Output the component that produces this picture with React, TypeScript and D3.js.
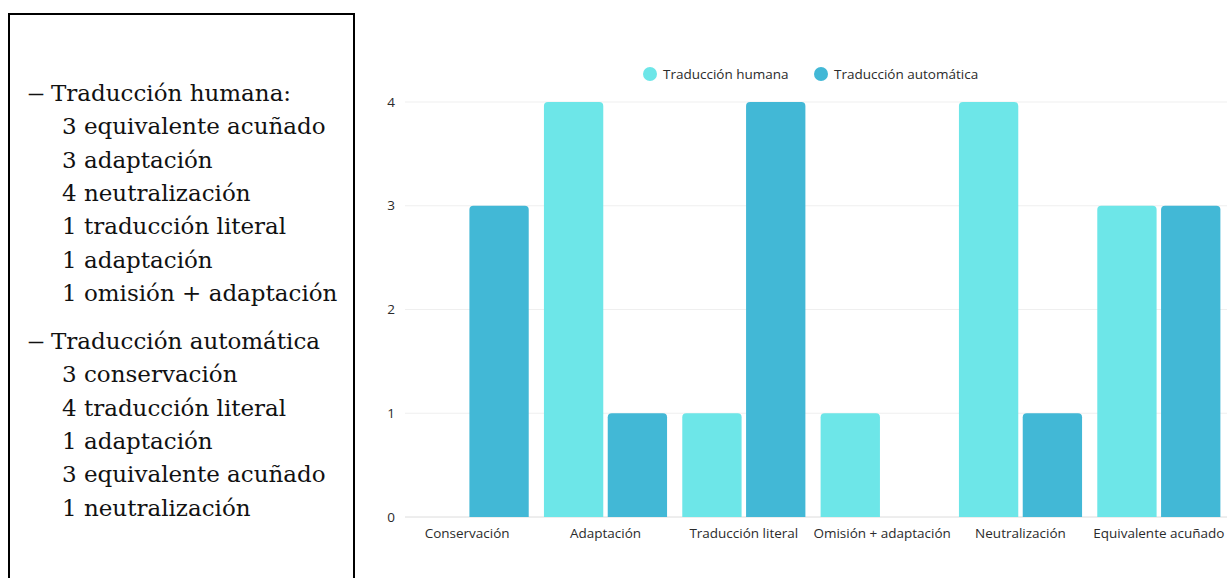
import React, { useEffect, useRef } from 'react';
import * as d3 from 'd3';

// chart data
const categories = [
  'Conservación',
  'Adaptación',
  'Traducción literal',
  'Omisión + adaptación',
  'Neutralización',
  'Equivalente acuñado',
];
const humanValues = [0, 4, 1, 1, 4, 3];
const autoValues = [3, 1, 4, 0, 1, 3];
const seriesNames = ['Traducción humana', 'Traducción automática'];
const yTicks = [0, 1, 2, 3, 4];

// side note text
const humanHeading = 'Traducción humana:';
const humanItems = [
  '3 equivalente acuñado',
  '3 adaptación',
  '4 neutralización',
  '1 traducción literal',
  '1 adaptación',
  '1 omisión + adaptación',
];
const autoHeading = 'Traducción automática';
const autoItems = [
  '3 conservación',
  '4 traducción literal',
  '1 adaptación',
  '3 equivalente acuñado',
  '1 neutralización',
];

const W = 1227;
const H = 578;
const COLORS = ['#6de6e8', '#42b8d6'];
const SANS = '"Open Sans", sans-serif';
const SERIF = '"DejaVu Serif", serif';

// bar with rounded top corners only
const topRounded = (x: number, y: number, w: number, h: number, r: number) => {
  const rr = Math.min(r, h, w / 2);
  return `M${x},${y + h}V${y + rr}Q${x},${y} ${x + rr},${y}H${x + w - rr}Q${x + w},${y} ${x + w},${y + rr}V${y + h}Z`;
};

const App: React.FC = () => {
  const svgRef = useRef<SVGSVGElement>(null);

  useEffect(() => {
    if (!svgRef.current) return;
    const svg = d3.select(svgRef.current);
    svg.selectAll('*').remove();

    // ---- left text box
    const box = svg.append('g');
    box.append('rect')
      .attr('x', 9)
      .attr('y', 14)
      .attr('width', 345)
      .attr('height', H + 20)
      .attr('fill', 'none')
      .attr('stroke', '#000')
      .attr('stroke-width', 2);

    const lineH = 33.3;
    const drawGroup = (heading: string, items: string[], y0: number) => {
      box.append('text')
        .attr('x', 28)
        .attr('y', y0)
        .attr('font-family', SERIF)
        .attr('font-size', 23)
        .attr('fill', '#111')
        .attr('textLength', 16)
        .attr('lengthAdjust', 'spacingAndGlyphs')
        .text('—');
      box.append('text')
        .attr('x', 51)
        .attr('y', y0)
        .attr('font-family', SERIF)
        .attr('font-size', 23)
        .attr('fill', '#111')
        .text(heading);
      items.forEach((t, i) => {
        box.append('text')
          .attr('x', 62)
          .attr('y', y0 + (i + 1) * lineH)
          .attr('font-family', SERIF)
          .attr('font-size', 23)
          .attr('fill', '#111')
          .text(t);
      });
    };
    drawGroup(humanHeading, humanItems, 101);
    drawGroup(autoHeading, autoItems, 349);

    // ---- bar chart
    const y = d3.scaleLinear().domain([0, 4]).range([517, 102]);
    const x0 = d3.scaleBand<string>()
      .domain(categories)
      .range([398, 1228])
      .paddingInner(0.11)
      .paddingOuter(0.055);
    const x1 = d3.scaleBand<string>()
      .domain(seriesNames)
      .range([0, x0.bandwidth()])
      .paddingInner(0.07);

    const chart = svg.append('g');

    // gridlines
    chart.selectAll('.grid')
      .data(yTicks)
      .enter()
      .append('line')
      .attr('x1', 405)
      .attr('x2', W)
      .attr('y1', d => y(d))
      .attr('y2', d => y(d))
      .attr('stroke', d => (d === 0 ? '#dcdcdc' : '#efefef'))
      .attr('stroke-width', 1);

    // y labels
    chart.selectAll('.ylab')
      .data(yTicks)
      .enter()
      .append('text')
      .attr('x', 395)
      .attr('y', d => y(d))
      .attr('dy', '0.35em')
      .attr('text-anchor', 'end')
      .attr('font-family', SANS)
      .attr('font-size', 13.5)
      .attr('fill', '#2b2b2b')
      .text(d => d);

    // bars
    const rows = categories.map((c, i) => ({ c, vals: [humanValues[i], autoValues[i]] }));
    const grp = chart.selectAll('.grp')
      .data(rows)
      .enter()
      .append('g')
      .attr('transform', d => `translate(${x0(d.c)},0)`);

    grp.selectAll('path')
      .data(d => d.vals.map((v, k) => ({ v, k })))
      .enter()
      .filter(d => d.v > 0)
      .append('path')
      .attr('d', d => topRounded(x1(seriesNames[d.k])!, y(d.v), x1.bandwidth(), y(0) - y(d.v), 4))
      .attr('fill', d => COLORS[d.k]);

    // x labels
    chart.selectAll('.xlab')
      .data(categories)
      .enter()
      .append('text')
      .attr('x', d => x0(d)! + x0.bandwidth() / 2)
      .attr('y', 538)
      .attr('text-anchor', 'middle')
      .attr('font-family', SANS)
      .attr('font-size', 13.5)
      .attr('fill', '#2b2b2b')
      .text(d => d);

    // legend
    const legendX = [650, 821];
    seriesNames.forEach((name, k) => {
      chart.append('circle')
        .attr('cx', legendX[k])
        .attr('cy', 74)
        .attr('r', 7)
        .attr('fill', COLORS[k]);
      chart.append('text')
        .attr('x', legendX[k] + 13)
        .attr('y', 74)
        .attr('dy', '0.35em')
        .attr('font-family', SANS)
        .attr('font-size', 13.5)
        .attr('fill', '#2b2b2b')
        .text(name);
    });
  }, []);

  return (
    <div style={{ position: 'absolute', left: 0, top: 0, width: W, height: H, background: '#fff' }}>
      <svg ref={svgRef} width={W} height={H} style={{ display: 'block' }} />
    </div>
  );
};

export default App;
